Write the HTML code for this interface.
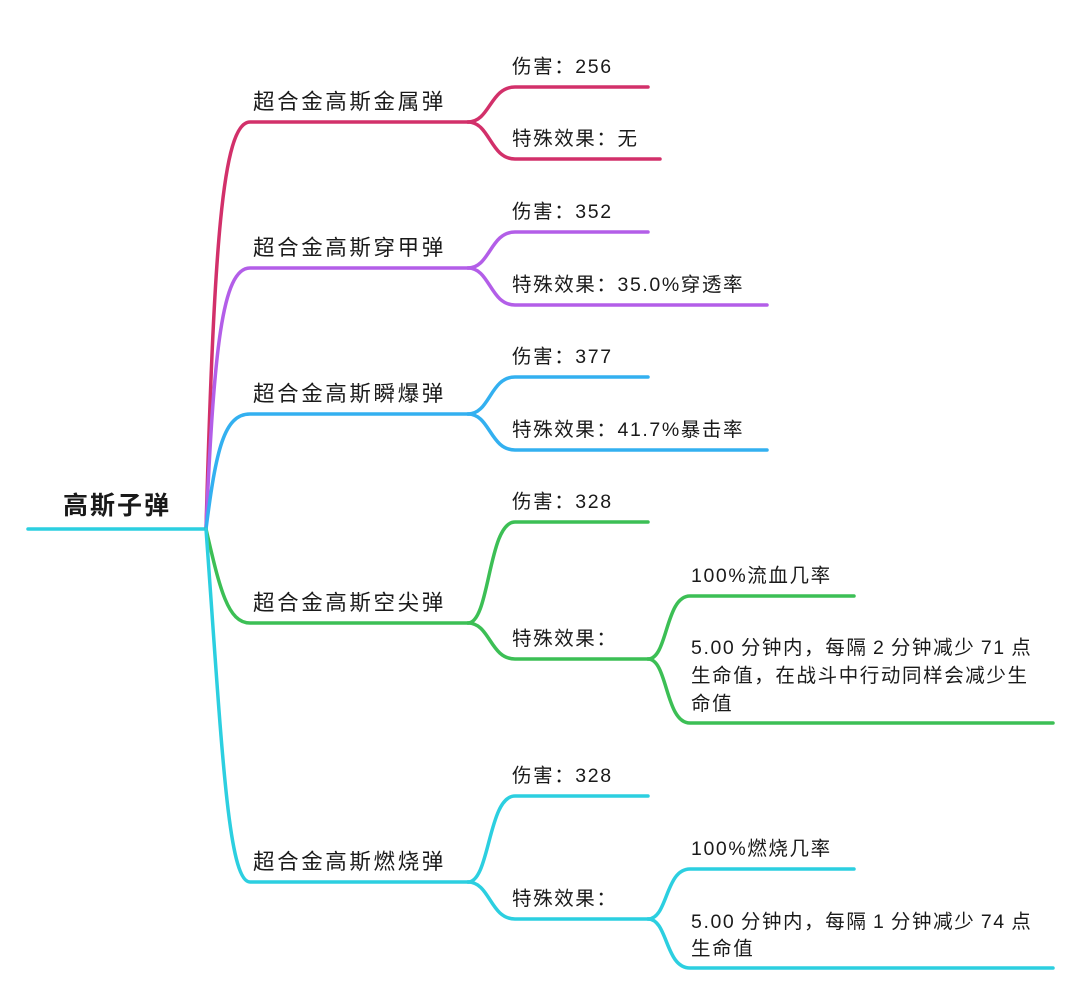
<!DOCTYPE html>
<html><head><meta charset="utf-8"><style>
html,body{margin:0;padding:0;background:#fff;}
svg{display:block;}
text{font-family:"Liberation Sans","Noto Sans CJK SC",sans-serif;fill:#1a1a1a;}
.b{font-size:21.5px;letter-spacing:2.6px;}
.l{font-size:19.5px;letter-spacing:1.6px;}
.r{font-size:25px;font-weight:bold;letter-spacing:2px;}
path{fill:none;stroke-width:3.5;stroke-linecap:round;}
</style></head><body>
<svg width="1080" height="998" viewBox="0 0 1080 998" xmlns="http://www.w3.org/2000/svg">
<!-- root -->
<path d="M28,529 L206,529" stroke="#2ccfe0"/>
<text class="r" x="63" y="514">高斯子弹</text>

<!-- branch 1 -->
<path d="M206,529 C214,250 222,122 250,122 L468,122" stroke="#d2306a"/>
<path d="M468,122 C490,122 490,87 515,87 L648,87" stroke="#d2306a"/>
<path d="M468,122 C490,122 490,159 515,159 L660,159" stroke="#d2306a"/>
<text class="b" x="253" y="109">超合金高斯金属弹</text>
<text class="l" x="512" y="73">伤害：256</text>
<text class="l" x="512" y="145">特殊效果：无</text>

<!-- branch 2 -->
<path d="M206,529 C214,350 222,268 250,268 L468,268" stroke="#b35ee8"/>
<path d="M468,268 C490,268 490,232 515,232 L648,232" stroke="#b35ee8"/>
<path d="M468,268 C490,268 490,305 515,305 L767,305" stroke="#b35ee8"/>
<text class="b" x="253" y="255">超合金高斯穿甲弹</text>
<text class="l" x="512" y="218">伤害：352</text>
<text class="l" x="512" y="291">特殊效果：35.0%穿透率</text>

<!-- branch 3 -->
<path d="M206,529 C216,450 224,414 250,414 L468,414" stroke="#33b0f0"/>
<path d="M468,414 C490,414 490,377 515,377 L648,377" stroke="#33b0f0"/>
<path d="M468,414 C490,414 490,450 515,450 L767,450" stroke="#33b0f0"/>
<text class="b" x="253" y="401">超合金高斯瞬爆弹</text>
<text class="l" x="512" y="363">伤害：377</text>
<text class="l" x="512" y="436">特殊效果：41.7%暴击率</text>

<!-- branch 4 -->
<path d="M206,529 C220,590 228,623 250,623 L468,623" stroke="#3cbf55"/>
<path d="M468,623 C490,623 488,522 515,522 L648,522" stroke="#3cbf55"/>
<path d="M468,623 C490,623 490,659 515,659 L648,659" stroke="#3cbf55"/>
<path d="M648,659 C668,659 665,596 690,596 L854,596" stroke="#3cbf55"/>
<path d="M648,659 C668,659 665,723 690,723 L1053,723" stroke="#3cbf55"/>
<text class="b" x="253" y="610">超合金高斯空尖弹</text>
<text class="l" x="512" y="508">伤害：328</text>
<text class="l" x="512" y="645">特殊效果：</text>
<text class="l" x="691" y="582">100%流血几率</text>
<text class="l" x="691" y="654">5.00&#8201;分钟内，每隔&#8201;2&#8201;分钟减少&#8201;71&#8201;点</text>
<text class="l" x="691" y="682">生命值，在战斗中行动同样会减少生</text>
<text class="l" x="691" y="710">命值</text>

<!-- branch 5 -->
<path d="M206,529 C222,750 228,882 250,882 L468,882" stroke="#2ccfe0"/>
<path d="M468,882 C490,882 488,796 515,796 L648,796" stroke="#2ccfe0"/>
<path d="M468,882 C490,882 490,919 515,919 L648,919" stroke="#2ccfe0"/>
<path d="M648,919 C668,919 665,869 690,869 L854,869" stroke="#2ccfe0"/>
<path d="M648,919 C668,919 665,968 690,968 L1053,968" stroke="#2ccfe0"/>
<text class="b" x="253" y="869">超合金高斯燃烧弹</text>
<text class="l" x="512" y="782">伤害：328</text>
<text class="l" x="512" y="905">特殊效果：</text>
<text class="l" x="691" y="855">100%燃烧几率</text>
<text class="l" x="691" y="928">5.00&#8201;分钟内，每隔&#8201;1&#8201;分钟减少&#8201;74&#8201;点</text>
<text class="l" x="691" y="955">生命值</text>
</svg>
</body></html>
